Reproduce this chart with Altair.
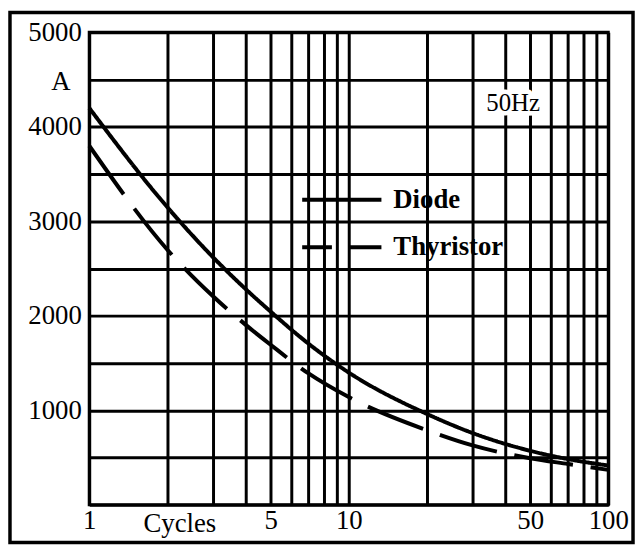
import altair as alt
import pandas as pd

# ---- data ----
cycles = [1, 2, 3, 4, 5, 7, 10, 20, 30, 50, 70, 100]
diode = [4200, 3150, 2620, 2285, 2045, 1705, 1400, 962, 760, 572, 484, 416]
thyristor = [3800, 2700, 2207, 1907, 1694, 1390, 1140, 790, 629, 493, 432, 370]
series = ["Diode", "Thyristor"]

x_grid = [1, 2, 3, 4, 5, 6, 7, 8, 9, 10, 20, 30, 40, 50, 60, 70, 80, 90, 100]
x_labels = [1, 5, 10, 50, 100]
y_grid = [0, 500, 1000, 1500, 2000, 2500, 3000, 3500, 4000, 4500, 5000]
y_labels = [1000, 2000, 3000, 4000, 5000]

note_text = ["50Hz"]
note_x = [43]
note_y = [4250]

FONT = "Liberation Serif"

df = pd.DataFrame({
    "Cycles": cycles * 2,
    "A": diode + thyristor,
    "Type": [series[0]] * len(cycles) + [series[1]] * len(cycles),
})
notes = pd.DataFrame({"x": note_x, "y": note_y, "t": note_text})

x_expr = "(" + " || ".join(f"datum.value == {v}" for v in x_labels) + ") ? datum.label : ''"
y_expr = "(" + " || ".join(f"datum.value == {v}" for v in y_labels) + ") ? datum.label : ''"

x_enc = alt.X(
    "Cycles:Q",
    scale=alt.Scale(type="log", domain=[1, 100], nice=False),
    axis=alt.Axis(
        values=x_grid, format="d", labelExpr=x_expr, grid=True, ticks=False,
        domain=False, labelFont=FONT, labelFontSize=27, labelColor="black",
        labelPadding=3, labelBaseline="top", labelFlush=False, labelOverlap=False,
        title="Cycles", titleFont=FONT, titleFontSize=27, titleFontWeight="normal",
        titleColor="black", titleX=91, titleY=19, titleAlign="center",
        titleBaseline="middle",
    ),
)
y_enc = alt.Y(
    "A:Q",
    scale=alt.Scale(domain=[0, 5000], nice=False),
    axis=alt.Axis(
        values=y_grid, format="d", labelExpr=y_expr, grid=True, ticks=False,
        domain=False, labelFont=FONT, labelFontSize=27, labelColor="black",
        labelPadding=8, labelFlush=False, labelOverlap=False,
        title="A", titleAngle=0, titleFont=FONT, titleFontSize=27,
        titleFontWeight="normal", titleColor="black", titleX=-29, titleY=50,
        titleAlign="center", titleBaseline="middle",
    ),
)

lines = alt.Chart(df).mark_line(
    color="black", strokeWidth=4, interpolate="monotone"
).encode(
    x=x_enc,
    y=y_enc,
    strokeDash=alt.StrokeDash(
        "Type:N",
        scale=alt.Scale(domain=series, range=[[1, 0], [60, 18]]),
        legend=alt.Legend(
            title=None, orient="none", legendX=213, legendY=154, padding=0,
            symbolType="stroke", symbolSize=6400, symbolStrokeWidth=4,
            symbolStrokeColor="black", symbolDashOffset=30,
            labelFont=FONT, labelFontSize=27, labelFontWeight="bold",
            labelColor="black", labelOffset=10, clipHeight=30, rowPadding=18,
        ),
    ),
)

halo = alt.Chart(notes).mark_text(
    font=FONT, fontSize=25, fill="white", stroke="white", strokeWidth=9,
    strokeJoin="round", align="center", baseline="middle",
).encode(x="x:Q", y="y:Q", text="t:N")

note = alt.Chart(notes).mark_text(
    font=FONT, fontSize=25, color="black", align="center", baseline="middle",
).encode(x="x:Q", y="y:Q", text="t:N")

frame = alt.Chart(alt.Data(values=[{"f": 1}])).mark_rect(
    filled=False, stroke="black", strokeWidth=3.5
).encode(
    x=alt.value(-80), x2=alt.value(549), y=alt.value(-20), y2=alt.value(515)
)

chart = alt.layer(lines, halo, note, frame).properties(
    width=524, height=477, padding=0, background="white"
).configure_view(
    stroke="black", strokeWidth=3
).configure_axis(
    gridColor="black", gridWidth=3, gridOpacity=1
)

chart.save("out.html", embed_options={"renderer": "svg", "actions": False})
